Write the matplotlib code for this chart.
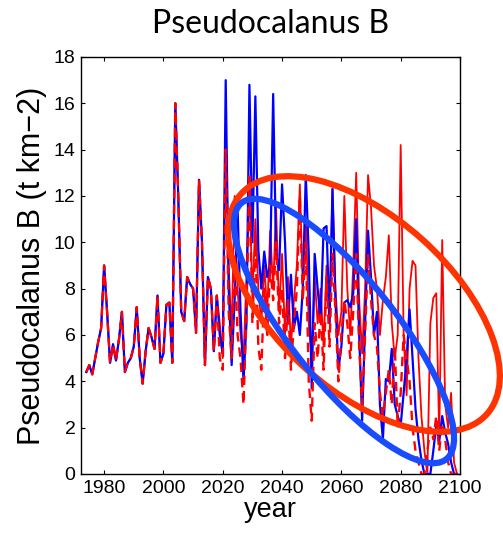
import matplotlib.pyplot as plt
from matplotlib.patches import Ellipse
import numpy as np

# annual values, 1974-2018 common to all runs
years = np.arange(1974, 2100)
hist = [4.4, 4.7, 4.3, 5.0, 5.7, 6.3, 9.0, 7.0, 4.8, 5.6,
        4.9, 5.8, 7.0, 4.4, 4.8, 5.0, 5.5, 7.2, 5.0, 3.9,
        5.3, 6.3, 5.9, 5.4, 7.7, 4.8, 5.2, 7.3, 7.4, 4.8,
        16.0, 12.0, 7.0, 6.6, 8.5, 8.2, 8.0, 6.1, 12.7, 10.0,
        4.7, 8.5, 8.0, 5.3, 7.7]

# 2019-2099
blue_future = [6.0, 5.2, 17.0, 8.0, 4.7, 7.5, 11.5, 7.0, 4.0, 6.5,
               16.8, 10.0, 16.3, 9.7, 8.0, 9.6, 8.5, 9.0, 16.4, 9.5,
               8.8, 12.5, 10.0, 6.6, 8.6, 6.3, 7.0, 6.0, 8.0, 12.9,
               9.5, 3.7, 9.5, 8.0, 6.6, 10.6, 10.7, 6.5, 12.3, 7.5,
               4.5, 5.5, 7.4, 7.5, 7.2, 7.8, 11.0, 6.0, 2.3, 6.5,
               10.5, 8.5, 6.0, 7.0, 3.0, 1.5, 4.1, 4.0, 5.4, 3.0,
               2.5, 2.1, 3.5, 5.0, 7.1, 5.0, 2.8, 1.5, 0.6, 0.0,
               0.0, 0.0, 1.0, 2.1, 1.4, 2.5, 1.8, 1.3, 0.5, 0.0, 0.0]
red_future = [6.5, 5.0, 14.5, 9.0, 6.0, 12.0, 8.0, 6.0, 5.0, 8.5,
              12.5, 7.5, 11.0, 8.0, 6.5, 9.0, 7.0, 10.5, 8.0, 11.5,
              7.0, 9.5, 6.0, 8.5, 5.5, 7.5, 9.0, 12.5, 8.0, 11.0,
              6.5, 5.0, 8.5, 6.5, 8.0, 5.5, 9.0, 6.5, 12.3, 8.0,
              6.0, 7.0, 12.0, 8.0, 6.0, 9.0, 13.0, 7.5, 5.2, 8.0,
              12.9, 11.5, 9.0, 8.0, 6.0, 7.5, 8.5, 10.3, 6.5, 5.0,
              6.0, 14.2, 6.0, 3.4, 8.0, 9.2, 9.0, 5.0, 2.5, 1.0,
              0.0, 6.5, 7.6, 7.8, 1.6, 10.1, 3.0, 2.0, 3.5, 0.5, 0.0]
red_dash_future = [5.0, 4.5, 14.0, 7.0, 5.0, 9.5, 6.0, 5.0, 3.0, 7.0,
                   13.0, 6.5, 10.0, 5.5, 4.5, 8.0, 6.0, 9.0, 7.5, 10.0,
                   6.5, 8.0, 5.0, 7.5, 4.5, 6.5, 8.0, 12.0, 7.5, 10.0,
                   4.0, 2.3, 6.5, 5.0, 7.0, 4.5, 8.5, 5.5, 9.5, 7.0,
                   4.0, 6.0, 7.5, 6.5, 5.0, 7.0, 9.5, 5.5, 3.0, 6.0,
                   9.5, 7.5, 6.0, 5.5, 3.5, 2.5, 3.5, 4.5, 3.0, 5.5,
                   2.0, 3.5, 6.0, 5.0, 4.0, 2.0, 1.0, 0.5, 0.0, 0.0,
                   1.0, 2.0, 1.5, 2.5, 1.0, 2.2, 1.5, 0.5, 0.0, 0.0, 0.0]

blue = hist + blue_future
red = hist + red_future
red_dash = hist + red_dash_future

xticks = [1980, 2000, 2020, 2040, 2060, 2080, 2100]
yticks = [0, 2, 4, 6, 8, 10, 12, 14, 16, 18]

plt.rcParams['font.family'] = ['Liberation Sans', 'DejaVu Sans']

fig = plt.figure(figsize=(5.03, 5.36), dpi=100)
ax = fig.add_axes([0.161, 0.1157, 0.7535, 0.778])

# red solid underneath, blue over it, red dashed on top
ax.plot(years, red, color='#ff0000', lw=1.3)
ax.plot(years, blue, color='#0000ff', lw=1.6)
ax.plot(years, red_dash, color='#ff0000', lw=1.7, dashes=(4, 2.5))

ax.set_xlim(1972.2, 2100)
ax.set_ylim(0, 18)
ax.set_xticks(xticks)
ax.set_yticks(yticks)
ax.tick_params(direction='in', top=True, right=True, length=3, width=0.8,
               labelsize=14, pad=4)
for s in ax.spines.values():
    s.set_linewidth(1.0)

ax.set_xlabel('year', fontsize=19.5, labelpad=0)
ax.set_ylabel('Pseudocalanus B (t km\u22122)', fontsize=22, labelpad=5)
fig.text(0.538, 0.938, 'Pseudocalanus B', fontsize=23, family=['Lato', 'DejaVu Sans'],
         ha='center', va='baseline')

# hand-drawn highlight ellipses (image pixels, y down), drawn in inches
H = 536
for cx, cy, a, b, ang, col in [(364, 304, 165, 87, 41.9, '#ff3300'),
                               (344, 331, 164, 52, 51.4, '#1a4cff')]:
    e = Ellipse((cx / 100, (H - cy) / 100), 2 * a / 100, 2 * b / 100, angle=-ang,
                transform=fig.dpi_scale_trans, fill=False, edgecolor=col,
                lw=4.5, clip_on=False)
    fig.add_artist(e)

fig.savefig('out.png', dpi=100)
